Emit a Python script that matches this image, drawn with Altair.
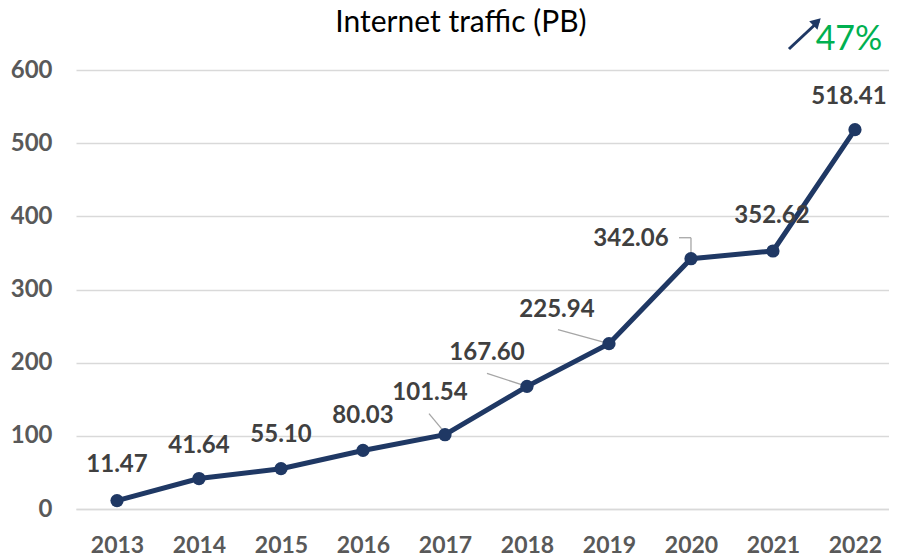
import altair as alt
import pandas as pd

# ---------------- data ----------------
years = [2013, 2014, 2015, 2016, 2017, 2018, 2019, 2020, 2021, 2022]
traffic = [11.47, 41.64, 55.10, 80.03, 101.54, 167.60, 225.94, 342.06, 352.62, 518.41]
title_text = "Internet traffic (PB)"
growth_text = "47%"
y_ticks = [0, 100, 200, 300, 400, 500, 600]

# ---------------- layout / style ----------------
PLOT_W, PLOT_H = 813, 439
X_DOMAIN = [2012.5, 2022.415]
Y_DOMAIN = [0, 600]
PX_X = PLOT_W / (X_DOMAIN[1] - X_DOMAIN[0])
PX_Y = PLOT_H / (Y_DOMAIN[1] - Y_DOMAIN[0])

NAVY = "#1F3864"
GRID = "#D9D9D9"
AXIS_TXT = "#595959"
LABEL_TXT = "#404040"
GREEN = "#00B050"

# label offsets from each point, in pixels (dx, dy)
label_offsets = {
    2013: (0, -36), 2014: (0, -33), 2015: (0, -34), 2016: (0, -34),
    2017: (-15, -42), 2018: (-40, -33), 2019: (-52, -34), 2020: (-60, -20),
    2021: (-1, -35), 2022: (-6, -33),
}
# leader line segments, pixel offsets relative to the point
leader_segments = [
    (2017, (-16, -21), (-1, -3)),
    (2018, (-40, -13), (0, 0)),
    (2019, (-51, -14), (0, 0)),
    (2020, (-12, -21), (0, -21)),
    (2020, (0, -21), (0, -4)),
]

df = pd.DataFrame({"year": years, "value": traffic})
df["label"] = [f"{v:.2f}" for v in traffic]
df["lx"] = [y + label_offsets[y][0] / PX_X for y in years]
df["ly"] = [v - label_offsets[y][1] / PX_Y for y, v in zip(years, traffic)]

val = dict(zip(years, traffic))
lead = pd.DataFrame([
    {"x": y + a[0] / PX_X, "y": val[y] - a[1] / PX_Y,
     "x2": y + b[0] / PX_X, "y2": val[y] - b[1] / PX_Y}
    for y, a, b in leader_segments
])

# annotations placed in data units above the plot
arrow = pd.DataFrame([{"x": 2021.195, "y": 628.7, "x2": 2021.56, "y2": 667.0}])
arrow_head = pd.DataFrame([{"x": 2021.537, "y": 665.7}])
growth = pd.DataFrame([{"x": 2021.927, "y": 640.8, "t": growth_text}])
title_df = pd.DataFrame([{"x": 2017.195, "y": 652.5, "t": title_text}])

xs = alt.Scale(domain=X_DOMAIN, nice=False, zero=False)
ys = alt.Scale(domain=Y_DOMAIN, nice=False, zero=True)

x_axis = alt.Axis(
    values=years, format="d", grid=False, ticks=False,
    domain=True, domainColor=GRID, domainWidth=1.3,
    labelFont="Lato", labelFontWeight="bold",
    labelFontSize=23, labelColor=AXIS_TXT, labelPadding=25, title=None,
)
y_axis = alt.Axis(
    values=y_ticks, grid=True, gridColor=GRID, gridWidth=1.3,
    ticks=False, domain=False,
    labelFont="Lato", labelFontWeight="bold", labelFontSize=24,
    labelColor=AXIS_TXT, labelPadding=24, title=None,
)


def X(field):
    return alt.X(field, scale=xs, axis=x_axis)


def Y(field):
    return alt.Y(field, scale=ys, axis=y_axis)


base = alt.Chart(df)

line = base.mark_line(color=NAVY, strokeWidth=5).encode(x=X("year:Q"), y=Y("value:Q"))
points = base.mark_point(filled=True, color=NAVY, size=175, opacity=1).encode(
    x=X("year:Q"), y=Y("value:Q")
)
leaders = alt.Chart(lead).mark_rule(color="#A6A6A6", strokeWidth=1.3).encode(
    x=X("x:Q"), y=Y("y:Q"), x2="x2:Q", y2="y2:Q"
)
labels = base.mark_text(
    font="Lato", fontWeight="bold", fontSize=24, color=LABEL_TXT,
    align="center", baseline="middle",
).encode(x=X("lx:Q"), y=Y("ly:Q"), text="label:N")

arrow_line = alt.Chart(arrow).mark_rule(color=NAVY, strokeWidth=3, clip=False).encode(
    x=X("x:Q"), y=Y("y:Q"), x2="x2:Q", y2="y2:Q"
)
arrow_tip = alt.Chart(arrow_head).mark_point(
    shape="triangle-up", filled=True, color=NAVY, size=140, angle=46, opacity=1, clip=False,
).encode(x=X("x:Q"), y=Y("y:Q"))
growth_txt = alt.Chart(growth).mark_text(
    font="Lato", fontSize=34, color=GREEN, align="center", baseline="middle", clip=False,
).encode(x=X("x:Q"), y=Y("y:Q"), text="t:N")
title_txt = alt.Chart(title_df).mark_text(
    font="Lato", fontSize=30, color="#000000", align="center", baseline="alphabetic", clip=False,
).encode(x=X("x:Q"), y=Y("y:Q"), text="t:N")

chart = alt.layer(
    line, leaders, points, labels, arrow_line, arrow_tip, growth_txt, title_txt
).properties(
    width=PLOT_W,
    height=PLOT_H,
    background="white",
    autosize=alt.AutoSizeParams(type="none"),
    padding={"left": 68, "top": 62, "right": 0, "bottom": 52},
).configure_view(stroke=None)

chart.save("out.html", embed_options={"renderer": "svg", "actions": False})
